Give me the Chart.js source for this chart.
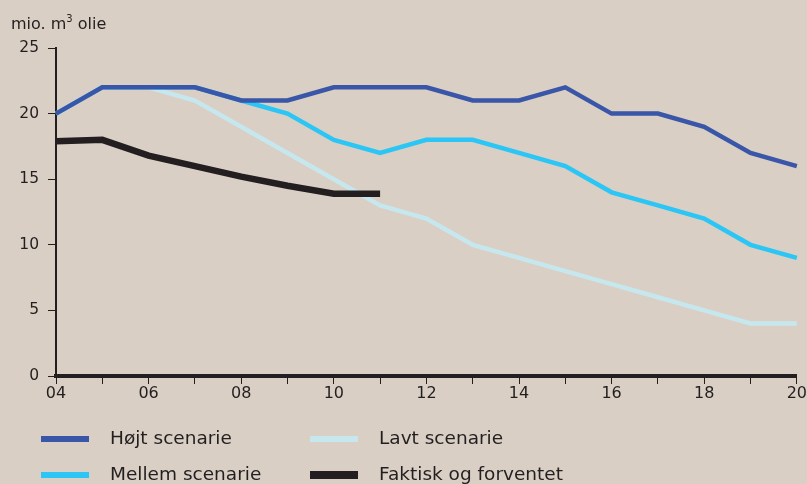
<!DOCTYPE html>
<html>
<head>
<meta charset="utf-8">
<script src="https://cdn.jsdelivr.net/npm/chart.js@4/dist/chart.umd.min.js"></script>
<style>
  html, body { margin: 0; padding: 0; background: #d9cfc4; }
  #wrap { position: relative; width: 807px; height: 484px; overflow: hidden; background: #d9cfc4; font-family: "DejaVu Sans", Verdana, sans-serif; color: #231f20; }
  #c { position: absolute; left: 0; top: 0; }
  #unit { position: absolute; left: 11px; top: 14px; font-size: 16px; white-space: nowrap; line-height: 20px; }
  #unit sup { font-size: 10px; vertical-align: 0; position: relative; top: -7px; }
  .lg { position: absolute; font-size: 18.5px; white-space: nowrap; line-height: 22px; }
  .sw { position: absolute; }
</style>
</head>
<body>
<div id="wrap">
  <canvas id="c" width="807" height="484"></canvas>
  <div id="unit">mio. m<sup>3</sup> olie</div>
  <div id="legend"></div>
</div>
<script>
// Years 2004–2020, labelled by two-digit year
const years = ['04','05','06','07','08','09','10','11','12','13','14','15','16','17','18','19','20'];

// Production scenarios, million m³ oil
const hojt    = [20, 22, 22, 22, 21, 21, 22, 22, 22, 21, 21, 22, 20, 20, 19, 17, 16];
const mellem  = [20, 22, 22, 22, 21, 20, 18, 17, 18, 18, 17, 16, 14, 13, 12, 10, 9];
const lavt    = [20, 22, 22, 21, 19, 17, 15, 13, 12, 10, 9, 8, 7, 6, 5, 4, 4];
const faktisk = [17.9, 18.0, 16.8, 16.0, 15.2, 14.5, 13.9, 13.9, null, null, null, null, null, null, null, null, null];

const yTicks = [0, 5, 10, 15, 20, 25];

const ink = '#231f20';
const series = [
  { label: 'Højt scenarie',         data: hojt,    color: '#3a56a8', width: 4.5, order: 1 },
  { label: 'Mellem scenarie',       data: mellem,  color: '#2bc6f5', width: 4.5, order: 2 },
  { label: 'Lavt scenarie',         data: lavt,    color: '#c6e7ee', width: 4.5, order: 3 },
  { label: 'Faktisk og forventet',  data: faktisk, color: ink,       width: 6.5, order: 0 }
];

new Chart(document.getElementById('c'), {
  type: 'line',
  data: {
    labels: years,
    datasets: series.map(s => ({
      label: s.label,
      data: s.data,
      borderColor: s.color,
      backgroundColor: s.color,
      borderWidth: s.width,
      pointRadius: 0,
      tension: 0,
      spanGaps: false,
      borderJoinStyle: 'miter',
      borderCapStyle: 'butt',
      order: s.order
    }))
  },
  options: {
    responsive: false,
    animation: false,
    devicePixelRatio: 1,
    layout: { padding: { top: 48, right: 10, left: 0, bottom: 0 } },
    plugins: { legend: { display: false }, tooltip: { enabled: false }, title: { display: false } },
    scales: {
      x: {
        type: 'category',
        offset: false,
        border: { display: true, color: ink, width: 4 },
        grid: { display: true, drawOnChartArea: false, drawTicks: true, tickLength: 8, color: ink, tickWidth: 1 },
        ticks: {
          autoSkip: false, maxRotation: 0, minRotation: 0, padding: 0,
          color: ink, font: { family: 'DejaVu Sans', size: 16 },
          callback: (v, i) => (i % 2 === 0 ? years[i] : '')
        },
        afterFit: s => { s.height = 108; }
      },
      y: {
        min: 0, max: 25,
        afterBuildTicks: s => { s.ticks = yTicks.map(v => ({ value: v })); },
        border: { display: true, color: ink, width: 2 },
        grid: { display: true, drawOnChartArea: false, drawTicks: true, tickLength: 8, color: ink, tickWidth: 1 },
        ticks: { color: ink, padding: 9, font: { family: 'DejaVu Sans', size: 15.5 } },
        afterFit: s => { s.width = 56; }
      }
    }
  }
});

// Legend: two columns, two rows
const legendPos = [
  { i: 0, x: 41,  y: 439 },
  { i: 2, x: 310, y: 439 },
  { i: 1, x: 41,  y: 475 },
  { i: 3, x: 310, y: 475 }
];
const lg = document.getElementById('legend');
legendPos.forEach(p => {
  const s = series[p.i];
  const sw = document.createElement('div');
  sw.className = 'sw';
  const h = s.color === ink ? 8 : 6;
  sw.style.cssText = `left:${p.x}px;top:${p.y - h / 2}px;width:48px;height:${h}px;background:${s.color}`;
  lg.appendChild(sw);
  const t = document.createElement('div');
  t.className = 'lg';
  t.textContent = s.label;
  t.style.left = (p.x + 69) + 'px';
  t.style.top = (p.y - 12) + 'px';
  lg.appendChild(t);
});
</script>
</body>
</html>
